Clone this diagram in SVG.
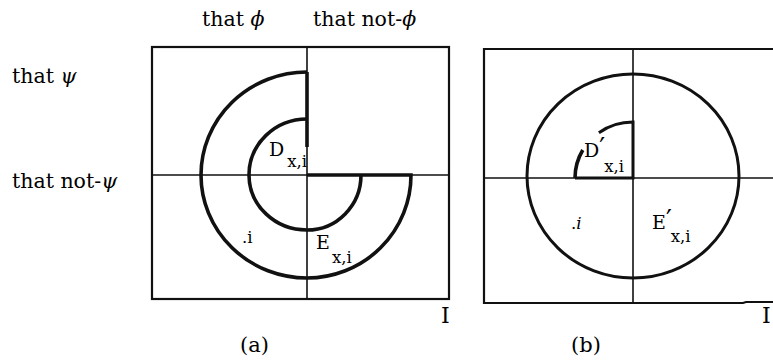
<svg xmlns="http://www.w3.org/2000/svg" width="773" height="363" viewBox="0 0 773 363">
<style>
.t{font-family:"DejaVu Serif","Liberation Serif",serif;fill:#000}
.lbl{font-size:20.5px}
.sym{font-size:19px}
.sub{font-size:16.5px}
.pr{font-size:26px}
.thin{fill:none;stroke:#111;stroke-width:1.6}
.box{fill:none;stroke:#111;stroke-width:2.2}
.thick{fill:none;stroke:#111;stroke-width:3.6;stroke-linecap:butt}
</style>
<rect width="773" height="363" fill="#fff"/>
<g id="headers">
<text class="t lbl" x="202" y="26">that <tspan font-style="italic">ϕ</tspan></text>
<text class="t lbl" x="313" y="26">that not-<tspan font-style="italic">ϕ</tspan></text>
<text class="t lbl" x="12" y="83">that <tspan font-style="italic">ψ</tspan></text>
<text class="t lbl" x="12" y="188">that not-<tspan font-style="italic">ψ</tspan></text>
</g>
<g id="panel-a">
<rect class="box" x="152" y="47" width="297" height="252"/>
<line class="thin" x1="307" y1="47" x2="307" y2="299"/>
<line class="thin" x1="152" y1="175" x2="449" y2="175"/>
<path class="thick" d="M307,72 A106,103 0 0 0 201,175 A106,103 0 0 0 307,278 A104,103 0 0 0 411,175 L307,175"/>
<path class="thick" d="M307,147 L307,72"/>
<path class="thick" d="M307,119 A58,56 0 0 0 249,175 A58,55 0 0 0 307,230 A54,55 0 0 0 361,175"/>
<text class="t sym" x="269" y="156">D<tspan class="sub" dx="3" dy="11">x,i</tspan></text>
<text class="t sym" x="316" y="249">E<tspan class="sub" dx="2" dy="14">x,i</tspan></text>
<text class="t sub" x="242" y="243">.i</text>
<text class="t" font-size="22" x="441" y="323">I</text>
<text class="t" font-size="21" x="240" y="352">(a)</text>
</g>
<g id="panel-b">
<path class="box" d="M773,49 L484,49 L484,303 L743,303 L746,302 L773,302"/>
<line class="thin" x1="633" y1="49" x2="633" y2="303"/>
<line class="thin" x1="484" y1="178" x2="773" y2="178"/>
<ellipse class="thick" cx="633" cy="176" rx="106" ry="102" style="stroke-width:3"/>
<path class="thick" d="M575,178 A58,56 0 0 1 582.8,150"/>
<path class="thick" d="M598.9,132.7 A58,56 0 0 1 633,122 L633,178 L575,178" style="stroke-width:3"/>
<text class="t sym" x="584" y="157">D<tspan class="pr" dx="0" dy="-1">′</tspan><tspan class="sub" dx="-1" dy="16">x,i</tspan></text>
<text class="t sym" x="652" y="229">E<tspan class="pr" dx="0" dy="-1">′</tspan><tspan class="sub" dx="-1" dy="14">x,i</tspan></text>
<text class="t sub" x="571" y="229">.<tspan font-style="italic">i</tspan></text>
<text class="t" font-size="22" x="762" y="323">I</text>
<text class="t" font-size="21" x="571" y="352">(b)</text>
</g>
</svg>
